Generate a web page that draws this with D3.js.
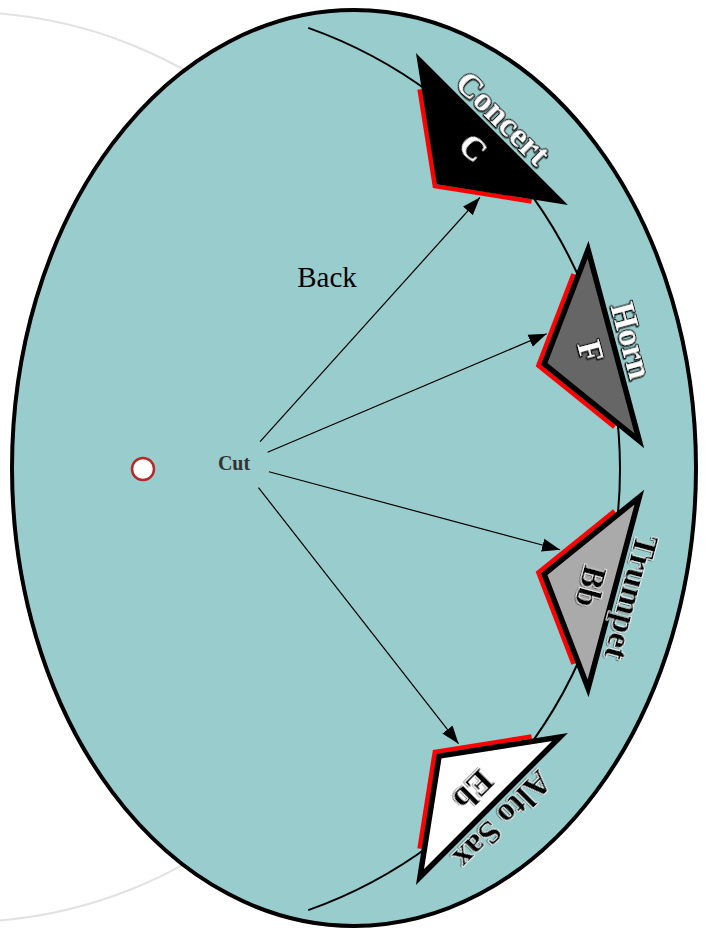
<!DOCTYPE html>
<html lang="en">
<head>
    <meta charset="UTF-8">
    <title>Transposition wheel</title>
    <style>
        body { margin: 0; background: #fff; }
        text { font-family: "Liberation Serif", "Times New Roman", serif; }
    </style>
</head>
<body>
    <div id="chart"></div>
    <script src="https://d3js.org/d3.v7.min.js"></script>
    <script>
        // data
        const instruments = ["Concert", "Horn", "Trumpet", "Alto Sax"];
        const keys = ["C", "F", "Bb", "Eb"];
        const fills = ["#000000", "#666666", "#aaaaaa", "#ffffff"];
        const arrowAngles = [-48, -23, 15, 52];   // direction of each arrow from "Cut", degrees

        const WIDTH = 709, HEIGHT = 928;
        const WHEEL = { cx: 152, cy: 469 };
        const CUT = { x: 240, y: 464 };
        const R_ARC = 468, R_OUTER = 478, R_INNER = 406, HALF_W = 99;
        const R_LABEL = 497, R_KEY = 455;

        // angle of each pointer around the wheel centre
        const angle = d3.scalePoint().domain(instruments).range([-45, 45]);
        const fill = d3.scaleOrdinal().domain(instruments).range(fills);
        const dark = name => d3.hsl(fill(name)).l < 0.5;

        const rad = d => d * Math.PI / 180;
        // radial r, tangential t around the wheel centre
        function pt(r, t, deg) {
            const a = rad(deg);
            return [WHEEL.cx + r * Math.cos(a) - t * Math.sin(a),
                    WHEEL.cy + r * Math.sin(a) + t * Math.cos(a)];
        }

        const svg = d3.select("#chart").append("svg")
            .attr("width", WIDTH)
            .attr("height", HEIGHT);

        const defs = svg.append("defs");
        defs.append("marker")
            .attr("id", "head")
            .attr("markerUnits", "userSpaceOnUse")
            .attr("viewBox", "0 -7 18 14")
            .attr("refX", 18).attr("refY", 0)
            .attr("markerWidth", 18).attr("markerHeight", 14)
            .attr("orient", "auto")
            .append("path")
            .attr("d", "M0,-6.5L18,0L0,6.5Z")
            .attr("fill", "#000");

        defs.append("filter")
            .attr("id", "shadow")
            .attr("x", "-20%").attr("y", "-20%").attr("width", "140%").attr("height", "140%")
            .append("feDropShadow")
            .attr("dx", 1).attr("dy", 1)
            .attr("stdDeviation", 0.7)
            .attr("flood-color", "#000")
            .attr("flood-opacity", 0.55);

        // back disc behind
        svg.append("circle")
            .attr("cx", -38).attr("cy", 467).attr("r", 455)
            .attr("fill", "none")
            .attr("stroke", "#e2e2e2")
            .attr("stroke-width", 2);

        svg.append("ellipse")
            .attr("cx", 354).attr("cy", 468)
            .attr("rx", 342).attr("ry", 458)
            .attr("fill", "#99cccc")
            .attr("stroke", "#000")
            .attr("stroke-width", 4);

        // thin rim arc
        const rim = d3.path();
        rim.arc(WHEEL.cx, WHEEL.cy, R_ARC, rad(-70.5), rad(70.5));
        svg.append("path")
            .attr("d", rim.toString())
            .attr("fill", "none")
            .attr("stroke", "#000")
            .attr("stroke-width", 2);

        svg.append("text")
            .attr("x", 327).attr("y", 287)
            .attr("text-anchor", "middle")
            .attr("font-size", 29)
            .attr("fill", "#000")
            .text("Back");

        svg.append("circle")
            .attr("cx", 143).attr("cy", 469).attr("r", 11)
            .attr("fill", "#fff")
            .attr("stroke", "#b82828")
            .attr("stroke-width", 2.5);

        svg.append("text")
            .attr("x", 234).attr("y", 470)
            .attr("text-anchor", "middle")
            .attr("font-size", 20)
            .attr("font-weight", "bold")
            .attr("fill", "#333")
            .text("Cut");

        // red edges, offset out from the short sides
        const redPts = name => {
            const a = angle(name), r0 = R_INNER - 6, f = 0.8;
            return [pt(r0 + f * (R_OUTER - R_INNER), -f * HALF_W, a),
                    pt(r0, 0, a),
                    pt(r0 + f * (R_OUTER - R_INNER), f * HALF_W, a)];
        };
        const line = d3.line();

        svg.append("g").selectAll("path")
            .data(instruments)
            .join("path")
            .attr("d", d => line(redPts(d)))
            .attr("fill", "none")
            .attr("stroke", "#ff0000")
            .attr("stroke-width", 4.5)
            .attr("stroke-linejoin", "miter");

        // arrows from "Cut" to the red edges
        function hit(ox, oy, dx, dy, p, q) {
            const ex = q[0] - p[0], ey = q[1] - p[1];
            const den = dx * ey - dy * ex;
            if (Math.abs(den) < 1e-9) return null;
            const s = ((p[0] - ox) * ey - (p[1] - oy) * ex) / den;
            const v = ((p[0] - ox) * dy - (p[1] - oy) * dx) / den;
            return (v >= 0 && v <= 1 && s > 0) ? s : null;
        }
        const arrows = instruments.map((name, i) => {
            const a = rad(arrowAngles[i]);
            const dx = Math.cos(a), dy = Math.sin(a);
            const p = redPts(name);
            const s = [hit(CUT.x, CUT.y, dx, dy, p[0], p[1]), hit(CUT.x, CUT.y, dx, dy, p[1], p[2])]
                .filter(x => x !== null);
            const len = (s.length ? d3.min(s) : 340) - 5;
            return [[CUT.x + 30 * dx, CUT.y + 30 * dy], [CUT.x + len * dx, CUT.y + len * dy]];
        });

        svg.append("g").selectAll("path")
            .data(arrows)
            .join("path")
            .attr("d", d => line(d))
            .attr("stroke", "#000")
            .attr("stroke-width", 1.2)
            .attr("marker-end", "url(#head)");

        // pointers
        svg.append("g").selectAll("path")
            .data(instruments)
            .join("path")
            .attr("d", d => {
                const a = angle(d);
                return line([pt(R_OUTER, -HALF_W, a), pt(R_OUTER, HALF_W, a), pt(R_INNER, 0, a)]) + "Z";
            })
            .attr("fill", d => fill(d))
            .attr("stroke", "#000")
            .attr("stroke-width", 5.5)
            .attr("stroke-linejoin", "miter");

        // instrument names outside, key letters inside
        function labels(texts, r) {
            svg.append("g").selectAll("text")
                .data(instruments)
                .join("text")
                .attr("transform", d => {
                    const p = pt(r, 0, angle(d));
                    return `translate(${p[0]},${p[1]}) rotate(${angle(d) + 90})`;
                })
                .attr("text-anchor", "middle")
                .attr("dominant-baseline", "central")
                .attr("font-size", 34)
                .attr("font-weight", "bold")
                .attr("fill", d => dark(d) ? "#fff" : "#000")
                .attr("stroke", d => dark(d) ? "#000" : "#fff")
                .attr("stroke-width", d => dark(d) ? 2.2 : 1.6)
                .attr("stroke-linejoin", "round")
                .attr("paint-order", "stroke")
                .attr("filter", "url(#shadow)")
                .text((d, i) => texts[i]);
        }
        labels(instruments, R_LABEL);
        labels(keys, R_KEY);
    </script>
</body>
</html>
